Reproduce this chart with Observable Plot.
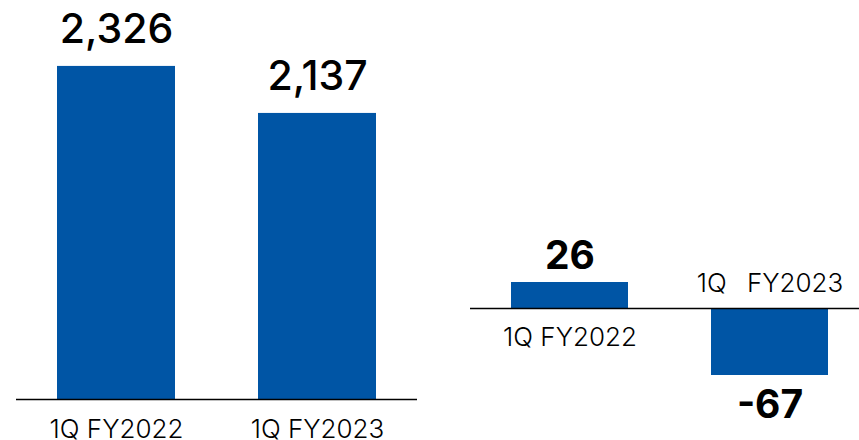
<!DOCTYPE html>
<html>
<head>
<meta charset="utf-8">
<script src="https://cdn.jsdelivr.net/npm/d3@7"></script>
<script src="https://cdn.jsdelivr.net/npm/@observablehq/plot@0.6"></script>
<style>
  html, body { margin: 0; padding: 0; background: #fff; }
  #wrap { position: relative; width: 859px; height: 440px; overflow: hidden; }
  #left, #right { position: absolute; top: 0; }
  #left { left: 0; }
  #right { left: 430px; }
</style>
</head>
<body>
<div id="wrap"><div id="left"></div><div id="right"></div></div>
<script>
// Left panel values
const leftCats = ["1Q FY2022", "1Q FY2023"];
const leftValues = [2326, 2137];
const leftValueLabels = ["2,326", "2,137"];

// Right panel values
const rightCats = ["1Q FY2022", "1Q FY2023"];
const rightValues = [26, -67];
const rightValueLabels = ["26", "-67"];
const rightCatLabels = ["1Q FY2022", "1Q\u2002 FY2023"];

const blue = "#0055A5";
const font = "Inter, 'Noto Sans', sans-serif";

const leftData = leftCats.map((c, i) => ({cat: c, value: leftValues[i], label: leftValueLabels[i]}));
const rightData = rightCats.map((c, i) => ({cat: c, value: rightValues[i], label: rightValueLabels[i], catLabel: rightCatLabels[i]}));

// left baseline value (the chart's axis does not start at zero)
const leftBase = 987;

const left = Plot.plot({
  width: 430,
  height: 440,
  marginTop: 0,
  marginBottom: 41,
  marginLeft: 16,
  marginRight: 13,
  style: {fontFamily: font, overflow: "visible", background: "transparent"},
  x: {domain: leftCats, paddingInner: 0.413, paddingOuter: 0.2, axis: null},
  y: {domain: [leftBase, 2591], axis: null},
  marks: [
    Plot.barY(leftData, {x: "cat", y1: leftBase, y2: "value", fill: blue}),
    Plot.ruleY([leftBase], {stroke: "#000", strokeWidth: 1.5}),
    Plot.text(leftData, {x: "cat", y: "value", text: "label", lineAnchor: "bottom", dy: -23,
      fontSize: 41, fontWeight: 500, fill: "#000"}),
    Plot.text(leftData, {x: "cat", y: leftBase, text: "cat", lineAnchor: "top", dy: 20,
      fontSize: 26, fontWeight: 300, fill: "#000"})
  ]
});
document.getElementById("left").appendChild(left);

const right = Plot.plot({
  width: 429,
  height: 440,
  marginTop: 0,
  marginBottom: 0,
  marginLeft: 40,
  marginRight: 0,
  style: {fontFamily: font, overflow: "visible", background: "transparent"},
  x: {domain: rightCats, range: [40, 439], paddingInner: 0.413, paddingOuter: 0.2, axis: null},
  y: {domain: [-132, 308], range: [440, 0], axis: null},
  marks: [
    Plot.barY(rightData, {x: "cat", y: "value", fill: blue}),
    Plot.ruleY([0], {stroke: "#000", strokeWidth: 1.5}),
    Plot.text(rightData.filter(d => d.value >= 0), {x: "cat", y: "value", text: "label", lineAnchor: "bottom", dy: -14,
      fontSize: 39, fontWeight: 700, fill: "#000"}),
    Plot.text(rightData.filter(d => d.value < 0), {x: "cat", y: "value", text: "label", lineAnchor: "top", dy: 15,
      fontSize: 39, fontWeight: 700, fill: "#000"}),
    Plot.text(rightData.filter(d => d.value >= 0), {x: "cat", y: 0, text: "catLabel", lineAnchor: "top", dy: 19,
      fontSize: 26, fontWeight: 300, fill: "#000"}),
    Plot.text(rightData.filter(d => d.value < 0), {x: "cat", y: 0, text: "catLabel", lineAnchor: "bottom", dy: -17,
      fontSize: 26, fontWeight: 300, fill: "#000"})
  ]
});
document.getElementById("right").appendChild(right);
</script>
</body>
</html>
